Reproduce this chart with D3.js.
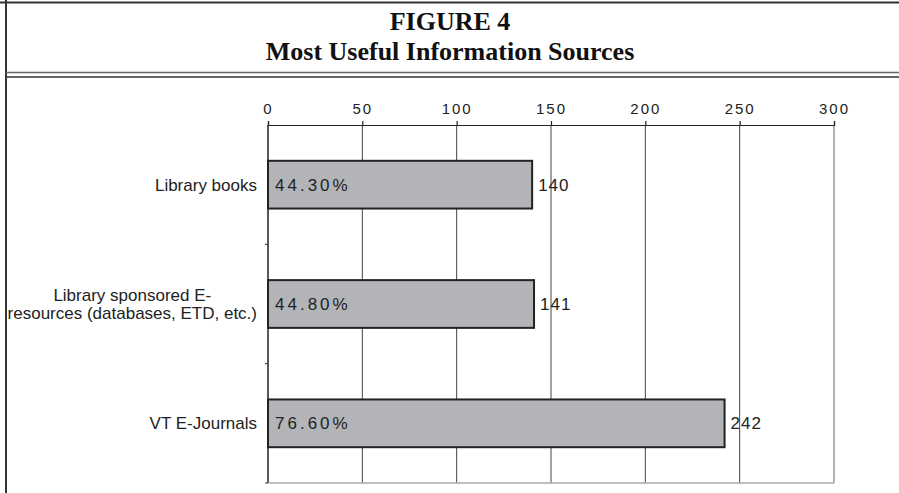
<!DOCTYPE html>
<html><head><meta charset="utf-8">
<script src="https://cdn.jsdelivr.net/npm/d3@7"></script>
<style>
html,body{margin:0;padding:0;background:#fff;}
svg{display:block;}
</style>
</head><body>
<svg id="chart" width="899" height="493"></svg>
<script>
const titleLines = ["FIGURE 4", "Most Useful Information Sources"];
const categories = [
  ["Library books"],
  ["Library sponsored E-", "resources (databases, ETD, etc.)"],
  ["VT E-Journals"]
];
const values = [140, 141, 242];
const percentLabels = ["44.30%", "44.80%", "76.60%"];
const xTicks = [0, 50, 100, 150, 200, 250, 300];

const svg = d3.select("#chart");
const W = 899, H = 493;
const m = {left: 268, top: 125};
const pw = 834 - m.left, ph = 483 - m.top;
const sans = "'Liberation Sans',Arial,Helvetica,sans-serif";

// frame
svg.append("line").attr("x1", 6).attr("x2", 6).attr("y1", 0).attr("y2", H)
  .attr("stroke", "#333").attr("stroke-width", 2);
svg.append("line").attr("x1", 0).attr("x2", W).attr("y1", 2.5).attr("y2", 2.5)
  .attr("stroke", "#333").attr("stroke-width", 2);
svg.append("line").attr("x1", 6).attr("x2", W).attr("y1", 72.5).attr("y2", 72.5)
  .attr("stroke", "#666").attr("stroke-width", 1.5);
svg.append("line").attr("x1", 6).attr("x2", W).attr("y1", 77).attr("y2", 77)
  .attr("stroke", "#333").attr("stroke-width", 1.5);

// title
svg.append("g").selectAll("text").data(titleLines).join("text")
  .attr("x", 450).attr("y", (d, i) => 30 + i * 30)
  .attr("text-anchor", "middle")
  .attr("font-family", "'Liberation Serif','Times New Roman',serif")
  .attr("font-weight", "bold").attr("font-size", 26).attr("fill", "#111")
  .text(d => d);

const x = d3.scaleLinear().domain([0, 300]).range([0, pw]);
const y = d3.scaleBand().domain(d3.range(categories.length)).range([0, ph]).paddingInner(0.6).paddingOuter(0.3);
const yb = d3.scaleBand().domain(d3.range(categories.length)).range([0, ph]);

const g = svg.append("g").attr("transform", `translate(${m.left},${m.top})`);

// gridlines
g.append("g").selectAll("line").data(xTicks).join("line")
  .attr("x1", d => x(d)).attr("x2", d => x(d)).attr("y1", 0).attr("y2", ph)
  .attr("stroke", d => d === 300 ? "#999" : (d === 0 ? "#222" : "#444"))
  .attr("stroke-width", d => d === 300 ? 1.5 : (d === 0 ? 1.5 : 1));
// bottom border
g.append("line").attr("x1", 0).attr("x2", pw).attr("y1", ph).attr("y2", ph)
  .attr("stroke", "#aaa").attr("stroke-width", 1.5);

// top axis
const xAxis = d3.axisTop(x).tickValues(xTicks).tickSize(4).tickPadding(7).tickFormat(d3.format("d"));
const ax = g.append("g").call(xAxis);
ax.select(".domain").attr("stroke", "#222").attr("stroke-width", 1.2);
ax.selectAll(".tick line").attr("stroke", "#222").attr("stroke-width", 1.2);
ax.selectAll(".tick text").attr("font-family", sans)
  .attr("font-size", 15).attr("fill", "#222").attr("letter-spacing", "2px");

// category ticks on left
g.append("g").selectAll("line").data(d3.range(1, categories.length + 1)).join("line")
  .attr("x1", -3).attr("x2", 0)
  .attr("y1", d => d * yb.step()).attr("y2", d => d * yb.step())
  .attr("stroke", "#333").attr("stroke-width", 1);

// bars
g.append("g").selectAll("rect").data(values).join("rect")
  .attr("x", x(0)).attr("y", (d, i) => y(i))
  .attr("width", d => x(d) - x(0)).attr("height", y.bandwidth())
  .attr("fill", "#b3b4b8").attr("stroke", "#222").attr("stroke-width", 2);

// percent labels
g.append("g").selectAll("text").data(percentLabels).join("text")
  .attr("x", 7).attr("y", (d, i) => y(i) + y.bandwidth() / 2 + 6)
  .attr("font-family", sans).attr("font-size", 17)
  .attr("fill", "#222").attr("letter-spacing", "3px")
  .text(d => d);

// value labels
g.append("g").selectAll("text").data(values).join("text")
  .attr("x", d => x(d) + 6).attr("y", (d, i) => y(i) + y.bandwidth() / 2 + 6)
  .attr("font-family", sans).attr("font-size", 17)
  .attr("fill", "#222").attr("letter-spacing", "1px")
  .text(d => d);

// category labels
const cl = g.append("g").selectAll("text").data(categories).join("text")
  .attr("font-family", sans).attr("font-size", 17)
  .attr("fill", "#222").attr("text-anchor", "end")
  .attr("transform", (d, i) => `translate(-11,${y(i) + y.bandwidth() / 2})`);
cl.each(function(d) {
  const t = d3.select(this);
  const n = d.length;
  if (n === 1) {
    t.append("tspan").attr("x", 0).attr("y", 6).text(d[0]);
  } else {
    // centered lines forming a right-aligned block
    const tmp = t.append("tspan").text(d[1]);
    const w = this.getComputedTextLength();
    tmp.remove();
    t.attr("text-anchor", "middle");
    d.forEach((line, k) => {
      t.append("tspan").attr("x", -w / 2).attr("y", 6 + (k - (n - 1) / 2) * 18).text(line);
    });
  }
});
</script>
</body></html>
